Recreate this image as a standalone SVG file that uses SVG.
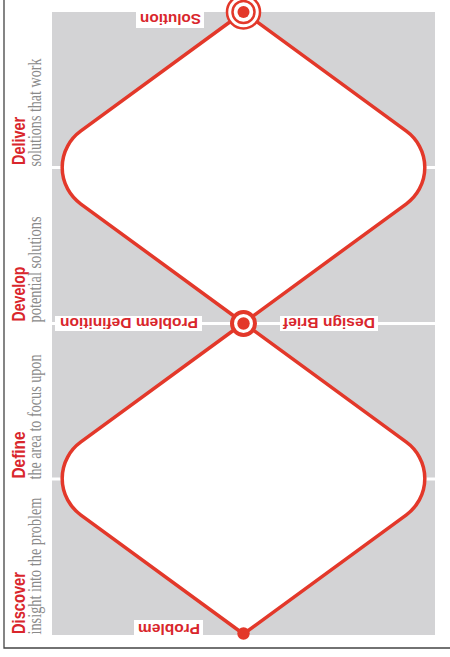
<svg xmlns="http://www.w3.org/2000/svg" width="450" height="657" viewBox="0 0 450 657">
<style>
.dia{fill:#ffffff;stroke:#e3382a;stroke-width:3.5;stroke-linejoin:round}
.sep{stroke:#ffffff;stroke-width:3}
.lbl{font-family:"Liberation Sans",Arial,sans-serif;font-weight:bold;font-size:15px;fill:#d9262c;text-anchor:middle}
.phase{font-family:"Liberation Sans",Arial,sans-serif;font-weight:bold;font-size:19px;fill:#d9262c}
.desc{font-family:"Liberation Serif","Times New Roman",serif;font-size:18px;fill:#8a8a8a}
.ring{fill:#ffffff;stroke:#e3382a}
.dot{fill:#e3382a}
</style>
<rect width="450" height="657" fill="#ffffff"/>
<g id="frame" fill="none" stroke="#444444" stroke-width="1.3">
<path d="M4 0 V648 H450"/>
</g>
<g id="background">
<rect x="52" y="12" width="383" height="623" fill="#d3d3d5"/>
<line class="sep" x1="52" y1="167.5" x2="435" y2="167.5"/>
<line class="sep" x1="52" y1="479" x2="435" y2="479"/>
<line class="sep" x1="52" y1="323.5" x2="435" y2="323.5" stroke-width="4"/>
</g>
<g id="connectors">
<path class="dia" d="M243.5 12 L406.4 131.2 A45 45 0 0 1 406.4 203.8 L243.5 323 L80.6 203.8 A45 45 0 0 1 80.6 131.2 Z"/>
<path class="dia" d="M243.5 323 L406.4 442.2 A45 45 0 0 1 406.4 514.8 L243.5 634 L80.6 514.8 A45 45 0 0 1 80.6 442.2 Z"/>
</g>
<g id="solution">
<rect x="136" y="8" width="68" height="20" fill="#ffffff"/>
<text class="lbl" transform="rotate(180 170.5 19)" x="170.5" y="24.5" textLength="61" lengthAdjust="spacingAndGlyphs">Solution</text>
<circle class="ring" cx="243.5" cy="12" r="16.5" stroke-width="2.5"/>
<circle class="ring" cx="243.5" cy="12" r="11" stroke-width="2.5"/>
<circle class="dot" cx="243.5" cy="12" r="6"/>
</g>
<g id="problem-definition">
<rect x="55" y="316" width="147" height="15" fill="#ffffff"/>
<text class="lbl" transform="rotate(180 129 323.5)" x="129" y="329" textLength="138" lengthAdjust="spacingAndGlyphs">Problem Definition</text>
</g>
<g id="design-brief">
<rect x="280" y="316" width="98" height="15" fill="#ffffff"/>
<text class="lbl" transform="rotate(180 329 323.5)" x="329" y="329" textLength="92" lengthAdjust="spacingAndGlyphs">Design Brief</text>
</g>
<g id="midpoint">
<circle class="ring" cx="243.5" cy="323.5" r="11.5" stroke-width="4"/>
<circle class="dot" cx="243.5" cy="323.5" r="6.2"/>
</g>
<g id="problem">
<rect x="134" y="620" width="69" height="16" fill="#ffffff"/>
<text class="lbl" transform="rotate(180 169 629)" x="169" y="634.5" textLength="62" lengthAdjust="spacingAndGlyphs">Problem</text>
<circle class="dot" cx="243.5" cy="633.5" r="6.2"/>
</g>
<g id="deliver">
<text class="phase" transform="translate(25 165) rotate(-90)" textLength="48" lengthAdjust="spacingAndGlyphs">Deliver</text>
<text class="desc" transform="translate(41 166.5) rotate(-90)" textLength="108" lengthAdjust="spacingAndGlyphs">solutions that work</text>
</g>
<g id="develop">
<text class="phase" transform="translate(25 321.5) rotate(-90)" textLength="55" lengthAdjust="spacingAndGlyphs">Develop</text>
<text class="desc" transform="translate(41 322.5) rotate(-90)" textLength="106" lengthAdjust="spacingAndGlyphs">potential solutions</text>
</g>
<g id="define">
<text class="phase" transform="translate(25 478.5) rotate(-90)" textLength="47" lengthAdjust="spacingAndGlyphs">Define</text>
<text class="desc" transform="translate(41 479.5) rotate(-90)" textLength="125" lengthAdjust="spacingAndGlyphs">the area to focus upon</text>
</g>
<g id="discover">
<text class="phase" transform="translate(25 634) rotate(-90)" textLength="62" lengthAdjust="spacingAndGlyphs">Discover</text>
<text class="desc" transform="translate(41 634.5) rotate(-90)" textLength="137" lengthAdjust="spacingAndGlyphs">insight into the problem</text>
</g>
</svg>
